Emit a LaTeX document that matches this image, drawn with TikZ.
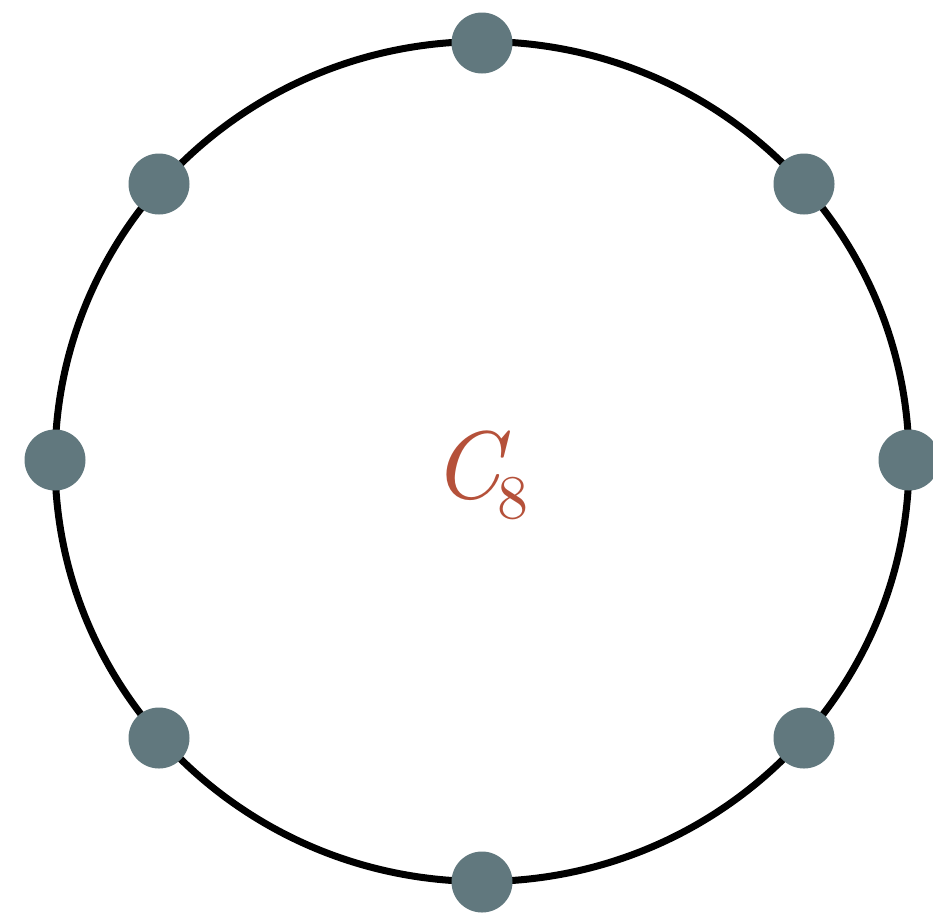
\documentclass[tikz,border=0pt]{standalone}
\usepackage{fontspec}
\newfontfamily\labfont{lmroman10-regular}[Extension=.otf, ItalicFont=lmroman10-italic]
\definecolor{vtx}{HTML}{61787E}
\definecolor{lab}{HTML}{B5513A}
\tikzset{
  vertex/.style={circle, fill=vtx, minimum size=61pt, inner sep=0pt},
  ring/.style={line width=7pt, draw=black}
}
\begin{document}
\begin{tikzpicture}[x=1pt,y=-1pt]
\useasboundingbox (0,0) rectangle (933,919);
\draw[ring] (482,461.5) ellipse [x radius=427, y radius=420];
\node[vertex] (v1) at (482,43) {};
\node[vertex] (v2) at (804,184) {};
\node[vertex] (v3) at (909,460) {};
\node[vertex] (v4) at (804,738) {};
\node[vertex] (v5) at (482,882) {};
\node[vertex] (v6) at (159,738) {};
\node[vertex] (v7) at (55,460) {};
\node[vertex] (v8) at (159,184) {};
\node[anchor=base west, inner sep=0pt, text=lab] (lbl) at (432,498)
  {\labfont\fontsize{96}{96}\selectfont\itshape C\kern-3pt\raisebox{-20pt}{\fontsize{62}{62}\selectfont\upshape 8}};
\end{tikzpicture}
\end{document}
